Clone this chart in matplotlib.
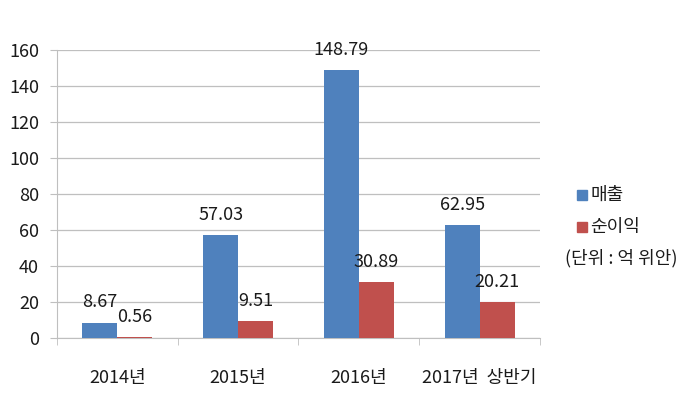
"""Revenue and net profit bar chart (억 위안)."""

import matplotlib
matplotlib.use("Agg")
import matplotlib.pyplot as plt
import numpy as np
from matplotlib.patches import Rectangle

plt.rcParams["font.family"] = ["Noto Sans CJK KR", "DejaVu Sans"]

# ── data ──────────────────────────────────────────────────────────────────
categories = ["2014년", "2015년", "2016년", "2017년  상반기"]
revenue = [8.67, 57.03, 148.79, 62.95]
net_profit = [0.56, 9.51, 30.89, 20.21]
series_names = ["매출", "순이익"]
unit_note = "(단위 : 억 위안)"
y_ticks = [0, 20, 40, 60, 80, 100, 120, 140, 160]

BLUE = "#4F81BD"
RED = "#C0504D"
GRID = "#BFBFBF"
TEXT = "#1a1a1a"
FS = 13

# ── plot ──────────────────────────────────────────────────────────────────
fig = plt.figure(figsize=(7.0, 4.03), dpi=100)
ax = fig.add_axes([0.0814, 0.161, 0.690, 0.715])

x = np.arange(len(categories))
w = 0.29
b1 = ax.bar(x - w / 2, revenue, w, color=BLUE, zorder=3)
b2 = ax.bar(x + w / 2, net_profit, w, color=RED, zorder=3)

for bars, vals in [(b1, revenue), (b2, net_profit)]:
    for rect, v in zip(bars, vals):
        ax.annotate(f"{v:.2f}", (rect.get_x() + rect.get_width() / 2, v),
                    xytext=(0, 8), textcoords="offset points",
                    ha="center", va="bottom", fontsize=FS, color=TEXT)

ax.set_xlim(-0.5, len(categories) - 0.5)
ax.set_ylim(0, 160)
ax.set_yticks(y_ticks)
ax.yaxis.grid(True, color=GRID, linewidth=0.9, zorder=0)
ax.set_axisbelow(True)

ax.set_xticks(x)
ax.set_xticklabels(categories, fontsize=FS, color=TEXT)
ax.set_xticks(np.arange(len(categories) + 1) - 0.5, minor=True)
ax.tick_params(axis="x", which="major", length=0, pad=22)
ax.tick_params(axis="x", which="minor", length=5, color=GRID, direction="out")
ax.tick_params(axis="y", length=5, color=GRID, labelsize=FS, labelcolor=TEXT, pad=8)

for side in ["top", "right"]:
    ax.spines[side].set_visible(False)
for side in ["left", "bottom"]:
    ax.spines[side].set_color(GRID)

# legend drawn manually to the right of the plot
for i, (name, color) in enumerate(zip(series_names, [BLUE, RED])):
    yy = 0.516 - i * 0.079
    fig.patches.append(Rectangle((0.824, yy - 0.013), 0.015, 0.026,
                                 transform=fig.transFigure, color=color))
    fig.text(0.843, yy, name, fontsize=FS, va="center", ha="left", color=TEXT)
fig.text(0.807, 0.360, unit_note, fontsize=FS, va="center", ha="left", color=TEXT)

fig.savefig("out.png", dpi=100)
